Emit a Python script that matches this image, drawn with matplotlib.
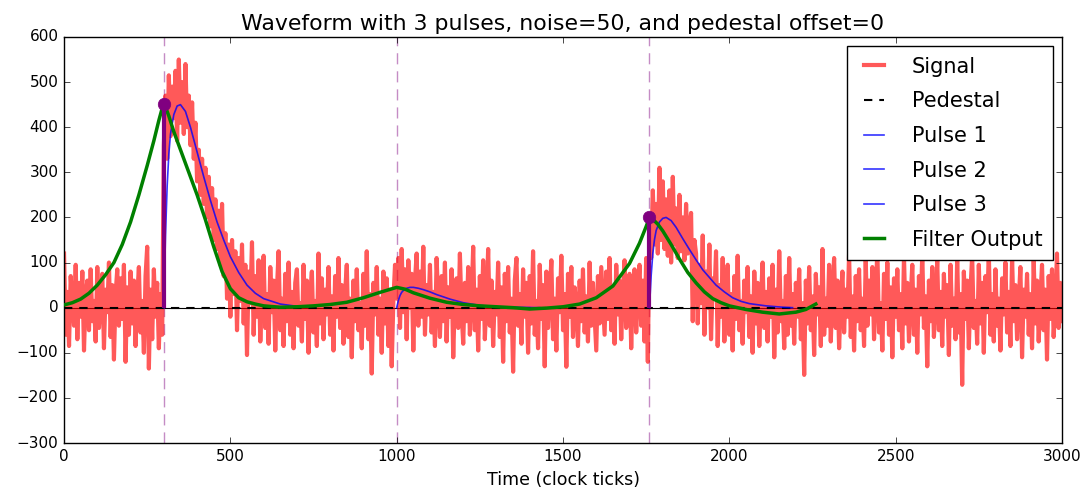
import matplotlib
matplotlib.use('Agg')
import matplotlib.pyplot as plt
import numpy as np

plt.style.use('classic')

# signal, one sample every 5 clock ticks (0..3000)
signal = [
    120, -60, 35, -85, 70, 10, -40, 95, -70, 55, -20, 80, -95, 30, 60, -50, 85, -30, 15, -75,
    90, -45, 20, 75, -90, 40, -10, 100, -65, 50, -115, 30, 85, -40, 65, -25, 95, -120, 45, -60,
    80, -35, 60, -85, 25, 90, -55, 15, -100, 70, 135, -135, 40, -70, 85, -20, 55, -90, 30, -60,
    360, 470, 330, 515, 380, 490, 420, 525, 370, 550, 410, 500, 385, 540, 400, 470, 360, 455, 330, 410,
    280, 350, 250, 330, 230, 310, 200, 290, 180, 265, 150, 240, 130, 215, 95, 230, 70, 165, 20, 140,
    -20, 150, 30, 125, -50, 110, 15, 140, -35, 95, -105, 80, 10, 145, -60, 70, -20, 105, -75, 40,
    115, -45, 30, -80, 90, -10, 60, -95, 40, 125, -50, 20, -85, 75, -30, 100, -60, 35, -90, 55,
    85, -40, 10, -75, 95, -25, 60, -100, 30, 80, -55, 15, -85, 120, -35, 65, -70, 40, -15, 90,
    -60, 25, -95, 70, -20, 110, -45, 50, -80, 35, 95, -65, 20, -110, 60, -30, 85, -50, 10, -90,
    75, -40, 125, -70, 30, -146, 55, -15, 90, -60, 20, -100, 80, -35, 65, -85, 40, -130, 15, 95,
    20, 110, -45, 130, -10, 85, -70, 105, 0, 75, -95, 60, 120, -40, 80, -20, 135, -60, 50, -15,
    95, -55, 35, -85, 110, 10, -65, 70, -30, 100, -75, 45, -20, 85, -110, 30, 65, -45, 120, -10,
    -80, 55, -30, 90, -60, 15, 135, -50, 40, -95, 70, -25, 105, -70, 20, 130, -40, 60, -85, 35,
    -15, 100, -65, 45, -120, 75, -30, 90, -55, 20, -142, 60, 110, -40, 30, -80, 85, -20, 55, -100,
    70, -35, 125, -60, 15, -90, 95, -25, 50, -130, 80, -45, 35, 105, -70, 20, -95, 65, -10, 115,
    -50, 30, -131, 75, -20, 90, -65, 45, 10, -85, 60, -30, 85, -55, 25, -75, 100, -40, 55, -20,
    -95, 70, -35, 90, 15, -60, 80, -25, 110, -50, 45, -80, 95, -15, 60, -70, 35, 105, -45, 20,
    75, -90, 40, 85, -55, 30, 95, -40, 60, -75, 110, -120, 190, 110, 260, 140, 230, 120, 310, 150,
    280, 130, 240, 115, 260, 100, 290, 140, 220, 110, 250, 125, 200, 105, 230, 120, 180, 210, -30, 150,
    120, -35, 95, 10, 160, -60, 80, 0, 140, -70, 65, 20, 125, -85, 50, -20, 110, -75, 40, 95,
    -60, 30, -95, 70, -25, 115, -50, 15, -80, 60, -10, 90, -65, 25, -100, 80, -35, 55, -85, 20,
    100, -45, 35, -75, 65, -20, 95, -110, 40, -55, 125, -30, 15, -90, 70, -60, 110, -40, 30, -80,
    55, -20, 85, -70, 10, -149, 60, -35, 90, -50, 25, -105, 75, -15, 45, -85, 130, -60, 20, -40,
    95, -75, 35, 110, -45, 60, -90, 15, 80, -55, 40, -20, 120, -65, 25, -95, 70, -30, 85, -50,
    20, -85, 105, -40, 60, -15, 90, -70, 35, 125, -55, 10, -95, 75, -25, 100, -60, 45, -110, 65,
    -20, 85, -50, 30, -90, 115, -35, 55, -75, 20, 95, -60, 40, -100, 70, -15, 120, -45, 25, -130,
    60, -30, 90, -65, 10, 105, -50, 35, -85, 75, -20, 50, -105, 95, -40, 20, -70, 110, -55, 30,
    -171, 80, -25, 60, -90, 40, 115, -45, 15, -80, 95, -35, 55, -100, 70, -10, 125, -60, 30, -75,
    85, -40, 20, -95, 65, -15, 100, -55, 35, -85, 110, -30, 50, -70, 15, 90, -110, 40, -20, 75,
    -60, 30, -90, 105, -35, 60, -75, 20, 95, -50, 40, -115, 70, -25, 85, -65, 10, 120, -45, 55,
    -30,
]
sig_t = np.arange(0, 3001, 5)

pulse1_t = [300, 305, 310, 315, 320, 330, 340, 350, 365, 380, 400, 420, 440, 460, 480, 500,
            525, 550, 575, 600, 650, 700, 730]
pulse1_v = [0, 160, 270, 340, 385, 428, 447, 450, 435, 400, 345, 290, 238, 190, 150, 113,
            78, 50, 32, 20, 8, 3, 1]

pulse2_t = [1000, 1005, 1010, 1015, 1020, 1030, 1040, 1050, 1065, 1080, 1100, 1120, 1140,
            1160, 1180, 1200, 1225, 1250, 1300, 1350, 1430]
pulse2_v = [0, 16, 27, 34, 38, 43, 45, 45, 43, 40, 35, 29, 24, 19, 15, 11, 8, 5, 2, 1, 0]

pulse3_t = [1760, 1765, 1770, 1775, 1780, 1790, 1800, 1810, 1825, 1840, 1860, 1880, 1900,
            1920, 1940, 1960, 1985, 2010, 2035, 2060, 2110, 2160, 2190]
pulse3_v = [0, 71, 120, 151, 171, 190, 198, 200, 193, 178, 153, 129, 106, 84, 67, 50, 35,
            22, 14, 9, 4, 1, 0]

filt_t = [0, 25, 50, 75, 100, 125, 150, 175, 200, 225, 250, 270, 285, 295, 300, 305, 315,
          330, 350, 375, 400, 425, 450, 475, 500, 525, 550, 575, 600, 650, 700, 750, 800,
          850, 900, 950, 1000, 1025, 1050, 1100, 1150, 1200, 1250, 1300, 1350, 1400, 1450,
          1500, 1550, 1600, 1650, 1700, 1730, 1750, 1760, 1770, 1785, 1800, 1825, 1850, 1875,
          1900, 1925, 1950, 1975, 2000, 2050, 2100, 2150, 2200, 2230, 2260]
filt_v = [6, 11, 19, 32, 50, 73, 100, 140, 190, 250, 315, 370, 415, 442, 452, 445, 425,
          390, 350, 300, 250, 195, 135, 80, 42, 22, 13, 8, 4, 1, 2, 4, 7,
          12, 22, 34, 45, 41, 33, 21, 12, 7, 4, 2, 0, -3, -1,
          2, 8, 22, 48, 98, 143, 180, 200, 196, 185, 170, 140, 108, 78,
          55, 35, 20, 11, 4, -4, -10, -14, -10, -4, 8]

pulse_starts = [300, 1000, 1760]
peak_t = [300, 1760]
peak_v = [452, 200]

fig = plt.figure(figsize=(10.91, 4.93), dpi=100, facecolor='white')
ax = fig.add_axes([0.0587, 0.1014, 0.9147, 0.8236])

ax.axhline(0, color='k', lw=0.8, zorder=1)
ax.plot(sig_t, signal, color='r', alpha=0.65, lw=3, label='Signal', zorder=2)
ax.plot([0, 3000], [0, 0], 'k--', lw=1.5, dashes=(6, 5), label='Pedestal', zorder=3)
ax.plot(pulse1_t, pulse1_v, color='b', alpha=0.8, lw=1.2, label='Pulse 1', zorder=4)
ax.plot(pulse2_t, pulse2_v, color='b', alpha=0.8, lw=1.2, label='Pulse 2', zorder=4)
ax.plot(pulse3_t, pulse3_v, color='b', alpha=0.8, lw=1.2, label='Pulse 3', zorder=4)
ax.plot(filt_t, filt_v, color='g', lw=2.5, label='Filter Output', zorder=5)
for t in pulse_starts:
    ax.axvline(t, color='purple', lw=1, alpha=0.45, ls='--', dashes=(8, 5), zorder=1)
ax.vlines(peak_t, 0, peak_v, color='purple', lw=3, zorder=6)
ax.plot(peak_t, peak_v, 'o', color='purple', mec='purple', ms=9, zorder=7)

ax.set_xlim(0, 3000)
ax.set_ylim(-300, 600)
ax.set_xticks(range(0, 3001, 500))
ax.set_yticks(range(-300, 601, 100))
ax.tick_params(labelsize=11)
ax.set_title('Waveform with 3 pulses, noise=50, and pedestal offset=0', fontsize=15.8)
ax.set_xlabel('Time (clock ticks)', fontsize=12.5)

leg = ax.legend(loc='upper right', fontsize=15, borderaxespad=0.45, labelspacing=0.7,
                handlelength=1.6, handletextpad=1.0, borderpad=0.5)
leg.get_frame().set_linewidth(1.0)

fig.savefig('out.png', dpi=100, facecolor='white')
